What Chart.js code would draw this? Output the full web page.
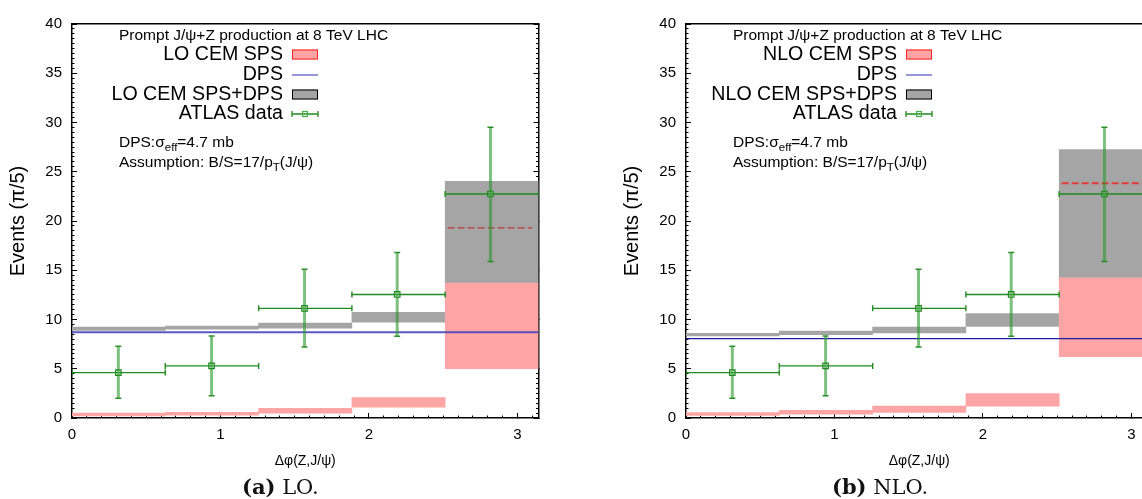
<!DOCTYPE html>
<html>
<head>
<meta charset="utf-8">
<script src="https://cdn.jsdelivr.net/npm/chart.js@4.4.1/dist/chart.umd.min.js"></script>
<style>
  html, body { margin: 0; padding: 0; background: #fff; }
  body { width: 1142px; height: 499px; overflow: hidden; position: relative; }
  canvas { position: absolute; top: 0; }
  #loChart { left: 0; }
  #nloChart { left: 614px; }
  .cap { position: absolute; top: 475px; line-height: 24px; font-size: 21px;
         font-family: 'DejaVu Serif', 'Liberation Serif', serif; color: #111; white-space: nowrap; }
</style>
</head>
<body>
<canvas id="loChart" width="600" height="499"></canvas>
<canvas id="nloChart" width="600" height="499"></canvas>
<div class="cap" style="left:242px"><b>(a)</b>&nbsp;LO.</div>
<div class="cap" style="left:832px"><b>(b)</b>&nbsp;NLO.</div>
<script>
// five bins of width pi/5 in delta-phi
const bins = ['0-π/5', 'π/5-2π/5', '2π/5-3π/5', '3π/5-4π/5', '4π/5-π'];
const binEdges = [0, 0.628, 1.257, 1.885, 2.513, 3.142];

// LO CEM: SPS band and SPS+DPS band (low/high edge per bin)
const loSpsLow  = [0.20, 0.28, 0.50, 1.10, 5.00];
const loSpsHigh = [0.50, 0.58, 0.97, 2.08, 13.70];
const loTotLow  = [8.90, 9.03, 9.13, 9.73, 13.70];
const loTotHigh = [9.23, 9.33, 9.63, 10.73, 24.04];
const loDps = 8.7;
const loCentral = 19.3;

// NLO CEM
const nloSpsLow  = [0.27, 0.40, 0.57, 1.20, 6.22];
const nloSpsHigh = [0.54, 0.77, 1.20, 2.48, 14.24];
const nloTotLow  = [8.33, 8.46, 8.63, 9.30, 14.24];
const nloTotHigh = [8.60, 8.83, 9.23, 10.60, 27.25];
const nloDps = 8.06;
const nloCentral = 23.84;

// dashed central value in the last bin
const centralFrom = 2.53;
const centralTo = 3.10;

// ATLAS data
const atlasX     = [0.312, 0.940, 1.566, 2.190, 2.818];
const atlasY     = [4.61, 5.29, 11.13, 12.54, 22.74];
const atlasYLow  = [2.00, 2.25, 7.20, 8.30, 15.90];
const atlasYHigh = [7.29, 8.33, 15.10, 16.80, 29.53];

const SANS = "'Liberation Sans', Arial, sans-serif";
const font = s => s + 'px ' + SANS;

// line pieces separated by gaps
function segments(pieces) {
  const out = [];
  pieces.forEach(([x1, y1, x2, y2]) => {
    out.push({x: x1, y: y1}, {x: x2, y: y2}, {x: x2, y: null});
  });
  return out;
}

const keyBox = {
  id: 'keyBox',
  afterDraw(chart, args, o) {
    const {ctx} = chart;
    const L = chart.chartArea.left, T = chart.chartArea.top;
    ctx.save();
    ctx.fillStyle = '#000';
    ctx.textBaseline = 'middle';
    ctx.textAlign = 'left';
    ctx.font = font(15.5);
    ctx.fillText('Prompt J/ψ+Z production at 8 TeV LHC', L + 47, T + 12);

    ctx.font = font(19.6);
    ctx.textAlign = 'right';
    const rowY = [30.5, 51, 70.5, 90];
    const names = [o.sps, 'DPS', o.sps + '+DPS', 'ATLAS data'];
    names.forEach((t, i) => ctx.fillText(t, L + 211, T + rowY[i]));

    const sx = L + 220, sw = 26;
    ctx.lineWidth = 1;
    ctx.fillStyle = '#ffa5a5';
    ctx.strokeStyle = '#ff2020';
    ctx.fillRect(sx, T + rowY[0] - 5, sw, 10);
    ctx.strokeRect(sx + 0.5, T + rowY[0] - 4.5, sw - 1, 9);

    ctx.strokeStyle = '#7272d2';
    ctx.lineWidth = 1.5;
    ctx.beginPath();
    ctx.moveTo(sx, T + rowY[1]);
    ctx.lineTo(sx + sw, T + rowY[1]);
    ctx.stroke();

    ctx.lineWidth = 1;
    ctx.fillStyle = '#a5a5a5';
    ctx.strokeStyle = '#000';
    ctx.fillRect(sx, T + rowY[2] - 5, sw, 10);
    ctx.strokeRect(sx + 0.5, T + rowY[2] - 4.5, sw - 1, 9);

    const gy = T + rowY[3];
    ctx.strokeStyle = '#1f8a1f';
    ctx.lineWidth = 1.3;
    ctx.beginPath();
    ctx.moveTo(sx, gy); ctx.lineTo(sx + sw, gy);
    ctx.moveTo(sx, gy - 3); ctx.lineTo(sx, gy + 3);
    ctx.moveTo(sx + sw, gy - 3); ctx.lineTo(sx + sw, gy + 3);
    ctx.stroke();
    ctx.strokeStyle = '#4fae4f';
    ctx.strokeRect(sx + sw / 2 - 2.5, gy - 2.5, 5, 5);

    // annotations with subscripts
    ctx.fillStyle = '#000';
    ctx.textAlign = 'left';
    ctx.textBaseline = 'alphabetic';
    const rich = (parts, x, y) => {
      let cx = x;
      parts.forEach(([t, sub]) => {
        ctx.font = font(sub ? 11.5 : 15.5);
        ctx.fillText(t, cx, y + (sub ? 4 : 0));
        cx += ctx.measureText(t).width;
      });
    };
    rich([['DPS:σ'], ['eff', 1], ['=4.7 mb']], L + 47, T + 123);
    rich([['Assumption: B/S=17/p'], ['T', 1], ['(J/ψ)']], L + 47, T + 143);
    ctx.restore();
  }
};

function scalesFor() {
  const black = '#000';
  const fixH = h => s => { s.height = h; };
  const fixW = w => s => { s.width = w; };
  const minorX = pos => ({
    type: 'linear', position: pos, min: 0, max: Math.PI, weight: 0, offset: false,
    ticks: { stepSize: 0.1, includeBounds: false, display: false },
    grid: { drawOnChartArea: false, offset: false, tickLength: -2.5, color: black, tickWidth: 1 },
    border: { display: false },
    afterFit: fixH(0)
  });
  const minorY = pos => ({
    type: 'linear', position: pos, min: 0, max: 40, weight: 0,
    ticks: { stepSize: 0.5, display: false },
    grid: { drawOnChartArea: false, tickLength: -2.5, color: black, tickWidth: 1 },
    border: { display: false },
    afterFit: fixW(0)
  });
  return {
    xBins: { type: 'category', labels: bins, display: false, offset: true },
    x: {
      type: 'linear', position: 'bottom', min: 0, max: Math.PI, weight: 1, offset: false,
      ticks: { stepSize: 1, includeBounds: false, color: black, font: { family: SANS, size: 15 },
               padding: 13, maxRotation: 0 },
      grid: { drawOnChartArea: false, offset: false, tickLength: -5, color: black, tickWidth: 1 },
      border: { color: black, width: 1.5 },
      title: { display: true, text: 'Δφ(Z,J/ψ)', color: black, font: { family: SANS, size: 14 },
               padding: { top: 0, bottom: 29 } },
      afterFit: fixH(81)
    },
    xMinor: minorX('bottom'),
    xTop: {
      type: 'linear', position: 'top', min: 0, max: Math.PI, offset: false,
      ticks: { display: false }, grid: { display: false },
      border: { color: black, width: 1.5 },
      afterFit: fixH(0)
    },
    y: {
      type: 'linear', position: 'left', min: 0, max: 40, weight: 1,
      ticks: { stepSize: 5, color: black, font: { family: SANS, size: 15 }, padding: 15 },
      grid: { drawOnChartArea: false, tickLength: -5, color: black, tickWidth: 1 },
      border: { color: black, width: 1.5 },
      title: { display: true, text: 'Events (π/5)', color: black, font: { family: SANS, size: 20 },
               padding: { top: 6, bottom: 0 } },
      afterFit: fixW(72)
    },
    yMinor: minorY('left'),
    yRight: {
      type: 'linear', position: 'right', min: 0, max: 40, weight: 1,
      ticks: { stepSize: 5, display: false },
      grid: { drawOnChartArea: false, tickLength: -5, color: black, tickWidth: 1 },
      border: { color: black, width: 1.5 },
      afterFit: fixW(0)
    },
    yRightMinor: minorY('right')
  };
}

function makeChart(id, p) {
  const ctx = document.getElementById(id).getContext('2d');
  const bar = (lo, hi, color, order) => ({
    type: 'bar', xAxisID: 'xBins', yAxisID: 'y', order,
    data: bins.map((b, i) => [lo[i], hi[i]]),
    backgroundColor: color, borderWidth: 0,
    barPercentage: 1, categoryPercentage: 1, grouped: false
  });
  const line = (data, extra, order) => Object.assign({
    type: 'line', xAxisID: 'x', yAxisID: 'y', order, data,
    fill: false, tension: 0, pointRadius: 0, spanGaps: false
  }, extra);

  const hErr = segments(atlasX.map((x, i) => [binEdges[i], atlasY[i], binEdges[i + 1], atlasY[i]]));
  const vErr = segments(atlasX.map((x, i) => [x, atlasYLow[i], x, atlasYHigh[i]]));

  return new Chart(ctx, {
    type: 'bar',
    data: {
      datasets: [
        bar(p.totLow, p.totHigh, '#a5a5a5', 9),
        bar(p.spsLow, p.spsHigh, '#ffa5a5', 8),
        line([{x: 0, y: p.dps}, {x: Math.PI, y: p.dps}],
             { borderColor: p.dpsColor, borderWidth: p.dpsWidth }, 7),
        line([{x: centralFrom, y: p.central}, {x: centralTo, y: p.central}],
             { borderColor: p.centralColor, borderWidth: p.centralWidth, borderDash: [7, 3] }, 6),
        line(vErr, { borderColor: 'rgba(40,150,40,0.6)', borderWidth: 3,
                     pointRadius: 3, pointStyle: 'line', pointRotation: 0,
                     pointBorderColor: '#2a8f2a', pointBorderWidth: 1.5 }, 5),
        line(hErr, { borderColor: '#1f8a1f', borderWidth: 1.4,
                     pointRadius: 3, pointStyle: 'line', pointRotation: 90,
                     pointBorderColor: '#1f8a1f', pointBorderWidth: 1.4 }, 4),
        line(atlasX.map((x, i) => ({x, y: atlasY[i]})),
             { showLine: false, pointRadius: 3.9, pointStyle: 'rect',
               pointBorderColor: '#1f8a1f', pointBackgroundColor: 'rgba(120,200,120,0.25)',
               pointBorderWidth: 1.2 }, 3)
      ]
    },
    options: {
      responsive: false,
      animation: false,
      events: [],
      layout: { padding: { left: 0, top: 19, right: 61.5, bottom: 0 } },
      scales: scalesFor(),
      plugins: {
        legend: { display: false },
        tooltip: { enabled: false },
        keyBox: { sps: p.sps }
      }
    },
    plugins: [keyBox]
  });
}

makeChart('loChart', {
  sps: 'LO CEM SPS',
  spsLow: loSpsLow, spsHigh: loSpsHigh, totLow: loTotLow, totHigh: loTotHigh,
  dps: loDps, dpsColor: 'rgba(70,70,185,0.9)', dpsWidth: 2,
  central: loCentral, centralColor: '#c02020', centralWidth: 1
});

makeChart('nloChart', {
  sps: 'NLO CEM SPS',
  spsLow: nloSpsLow, spsHigh: nloSpsHigh, totLow: nloTotLow, totHigh: nloTotHigh,
  dps: nloDps, dpsColor: '#1c1ca0', dpsWidth: 1.2,
  central: nloCentral, centralColor: '#e03c3c', centralWidth: 2
});
</script>
</body>
</html>
